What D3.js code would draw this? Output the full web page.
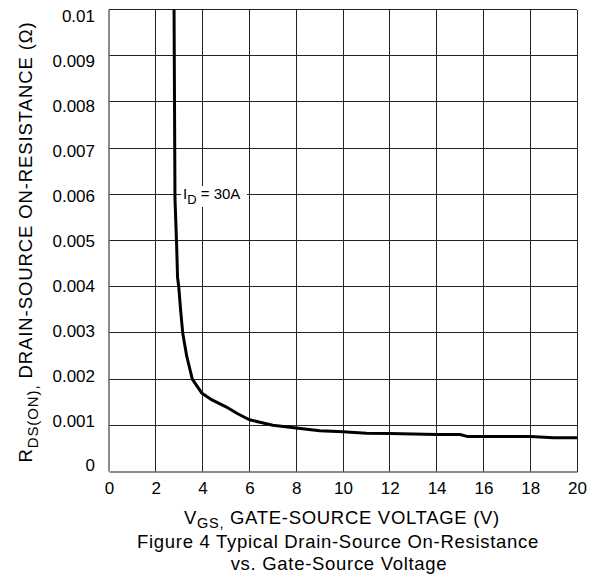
<!DOCTYPE html>
<html>
<head>
<meta charset="utf-8">
<script src="https://cdn.jsdelivr.net/npm/d3@7"></script>
<style>
  body { margin: 0; background: #fff; }
  svg { display: block; font-family: "Liberation Sans", Arial, sans-serif; }
</style>
</head>
<body>
<div class="container"></div>
<script>
// curve: V_GS (V) vs R_DS(on) (ohm), I_D = 30A
const vgs = [2.78, 2.82, 2.89, 2.93, 2.98, 3.06, 3.15, 3.32, 3.56, 3.96, 4.4, 5.0, 5.5, 6.0, 6.5, 7.0, 8.0, 9.0, 10.0, 11.0, 12.0, 13.0, 14.0, 15.0, 15.3, 16.0, 17.0, 18.0, 19.0, 20.0]
const rds = [0.0100, 0.0059, 0.0049, 0.0042, 0.0040, 0.0035, 0.0030, 0.0025, 0.0020, 0.0017, 0.00155, 0.0014, 0.00125, 0.00112, 0.00106, 0.0010, 0.00094, 0.00088, 0.00086, 0.00083, 0.00082, 0.00081, 0.0008, 0.0008, 0.00076, 0.00076, 0.00076, 0.00076, 0.00073, 0.00073]

const xTicks = [0, 2, 4, 6, 8, 10, 12, 14, 16, 18, 20]
const yTicks = [0, 0.001, 0.002, 0.003, 0.004, 0.005, 0.006, 0.007, 0.008, 0.009, 0.01]
const yTickLabels = ["0", "0.001", "0.002", "0.003", "0.004", "0.005", "0.006", "0.007", "0.008", "0.009", "0.01"]

const w = 600
const h = 578
const padLeft = 109, padRight = 577, padTop = 9.5, padBottom = 471.5

const svg = d3.select(".container")
              .append("svg")
              .attr("width", w)
              .attr("height", h)

const xScale = d3.scaleLinear().domain([0, 20]).range([padLeft, padRight])
const yScale = d3.scaleLinear().domain([0, 0.01]).range([padBottom, padTop])
// the printed value labels sit a bit inside the grid range in the original
const yLabelScale = d3.scaleLinear().domain([0, 0.01]).range([465.5, 16.5])

// grid
const grid = svg.append("g").attr("shape-rendering", "crispEdges")
grid.selectAll(".vgrid")
    .data(xTicks.slice(1))
    .enter()
    .append("line")
    .attr("x1", d => xScale(d)).attr("x2", d => xScale(d))
    .attr("y1", padTop).attr("y2", padBottom)
    .attr("stroke", "#222")
grid.selectAll(".hgrid")
    .data(yTicks.slice(1))
    .enter()
    .append("line")
    .attr("x1", padLeft).attr("x2", padRight)
    .attr("y1", d => yScale(d)).attr("y2", d => yScale(d))
    .attr("stroke", "#222")

// axes (frame left + bottom), labels only
const xAxis = d3.axisBottom(xScale).tickValues(xTicks).tickSize(0).tickPadding(10)
svg.append("g")
   .attr("id", "x-axis")
   .attr("transform", "translate(0," + padBottom + ")")
   .call(xAxis)
   .call(g => g.select(".domain").attr("stroke", "#666").attr("stroke-width", 1.5))
   .call(g => g.selectAll("text").attr("font-size", 17).attr("font-family", "Liberation Sans").attr("fill", "#000"))

svg.append("line")
   .attr("x1", padLeft).attr("x2", padLeft)
   .attr("y1", padTop).attr("y2", padBottom)
   .attr("stroke", "#666").attr("stroke-width", 1.5)

const yAxis = d3.axisLeft(yLabelScale).tickValues(yTicks).tickSize(0).tickPadding(14)
                .tickFormat((d, i) => yTickLabels[i])
svg.append("g")
   .attr("id", "y-axis")
   .attr("transform", "translate(" + padLeft + ",0)")
   .call(yAxis)
   .call(g => g.select(".domain").remove())
   .call(g => g.selectAll("text").attr("font-size", 17).attr("font-family", "Liberation Sans").attr("fill", "#000"))

// curve
const line = d3.line()
               .x((d, i) => xScale(vgs[i]))
               .y((d, i) => yScale(rds[i]))
svg.append("path")
   .datum(vgs)
   .attr("d", line)
   .attr("fill", "none")
   .attr("stroke", "#000")
   .attr("stroke-width", 3)
   .attr("stroke-linejoin", "round")

// I_D label with white background
svg.append("rect")
   .attr("x", 181).attr("y", 186)
   .attr("width", 66).attr("height", 21)
   .attr("fill", "#fff")
const idLabel = svg.append("text")
   .attr("x", 183).attr("y", 199)
   .attr("font-size", 15)
idLabel.append("tspan").text("I")
idLabel.append("tspan").attr("dy", 5).attr("font-size", 13).text("D")
idLabel.append("tspan").attr("dy", -5).text(" = 30A")

// x title
const xt = svg.append("text")
   .attr("x", 342).attr("y", 524)
   .attr("text-anchor", "middle")
   .attr("font-size", 18.5)
   .attr("letter-spacing", 0.7)
xt.append("tspan").text("V")
xt.append("tspan").attr("dy", 4).attr("font-size", 14.5).text("GS,")
xt.append("tspan").attr("dy", -4).text(" GATE-SOURCE VOLTAGE (V)")

svg.append("text")
   .attr("x", 338).attr("y", 548)
   .attr("text-anchor", "middle")
   .attr("font-size", 18.5)
   .attr("letter-spacing", 0.7)
   .text("Figure 4 Typical Drain-Source On-Resistance")
svg.append("text")
   .attr("x", 339).attr("y", 570)
   .attr("text-anchor", "middle")
   .attr("font-size", 18.5)
   .attr("letter-spacing", 0.7)
   .text("vs. Gate-Source Voltage")

// y title
const yt = svg.append("text")
   .attr("transform", "translate(32,242) rotate(-90)")
   .attr("text-anchor", "middle")
   .attr("font-size", 18.5)
   .attr("letter-spacing", 0.9)
yt.append("tspan").text("R")
yt.append("tspan").attr("dy", 6).attr("font-size", 15).text("DS(ON),")
yt.append("tspan").attr("dy", -6).text(" DRAIN-SOURCE ON-RESISTANCE (Ω)")
</script>
</body>
</html>
